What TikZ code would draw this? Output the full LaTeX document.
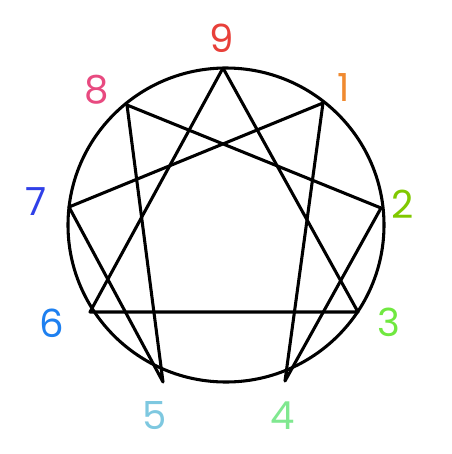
\documentclass[tikz,border=0pt]{standalone}
\usepackage{fontspec}
\setmainfont{Poppins}
\definecolor{c9}{HTML}{E8403A}
\definecolor{c1}{HTML}{F08A30}
\definecolor{c2}{HTML}{80C800}
\definecolor{c3}{HTML}{70E840}
\definecolor{c4}{HTML}{80E890}
\definecolor{c5}{HTML}{7EC8E0}
\definecolor{c6}{HTML}{1E80F0}
\definecolor{c7}{HTML}{3040E8}
\definecolor{c8}{HTML}{E84A80}
\begin{document}
\begin{tikzpicture}
        [x=0.75pt,y=-0.75pt,
         label_style/.style={font=\fontsize{29}{29}\selectfont},
         ring_style/.style={draw=black,line width=2.3pt},
         edge_style/.style={draw=black,line width=2.3pt,line join=round,line cap=round}]
            \useasboundingbox (0,0) rectangle (452,454);
            \draw[ring_style] (226,225) ellipse (158 and 157);
            \coordinate (v9) at (223, 68);
            \coordinate (v1) at (323, 103);
            \coordinate (v2) at (381, 208);
            \coordinate (v3) at (358, 312);
            \coordinate (v4) at (285, 381);
            \coordinate (v5) at (163, 382);
            \coordinate (v6) at (90, 312);
            \coordinate (v7) at (69, 207);
            \coordinate (v8) at (127, 105);
            \node[label_style,text=c9] (l9) at (222, 38)  {9};
            \node[label_style,text=c1] (l1) at (344, 88)  {1};
            \node[label_style,text=c2] (l2) at (403, 204) {2};
            \node[label_style,text=c3] (l3) at (389, 322) {3};
            \node[label_style,text=c4] (l4) at (283, 416) {4};
            \node[label_style,text=c5] (l5) at (155, 416) {5};
            \node[label_style,text=c6] (l6) at (52, 323)  {6};
            \node[label_style,text=c7] (l7) at (36, 202)  {7};
            \node[label_style,text=c8] (l8) at (97, 90)   {8};
            \draw[edge_style]  (v9) -- (v3) -- (v6) -- cycle;
            \draw[edge_style]  (v1) -- (v4) -- (v2) -- (v8) -- (v5) -- (v7) -- cycle;
        \end{tikzpicture}
\end{document}
